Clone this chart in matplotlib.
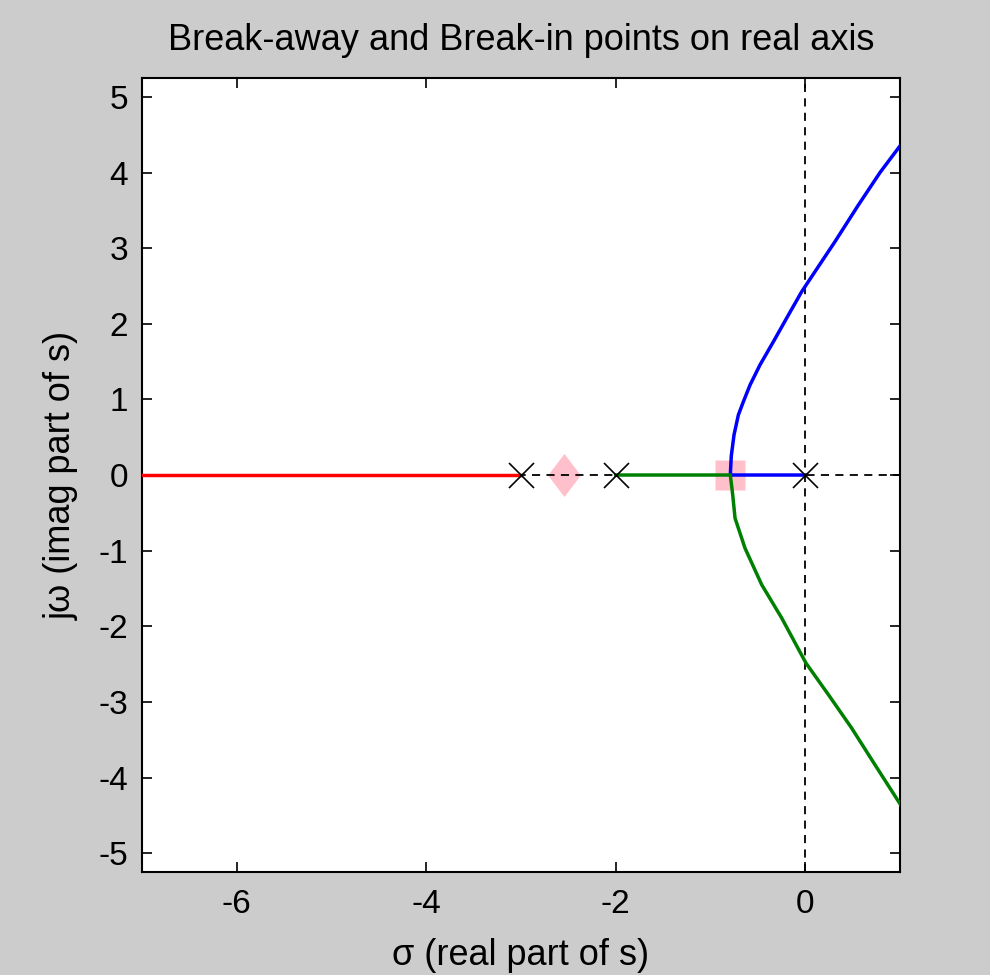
import matplotlib
matplotlib.use("Agg")
import matplotlib.pyplot as plt

# Root locus branches
red_sigma = [-7.0, -3.0]
red_omega = [0.0, 0.0]

blue_sigma = [0.0, -0.79, -0.78, -0.751, -0.705, -0.652, -0.582, -0.477, -0.335,
              -0.177, -0.037, 0.103, 0.314, 0.561, 0.79, 1.007]
blue_omega = [0.0, 0.0, 0.25, 0.531, 0.795, 0.971, 1.19, 1.456, 1.764,
              2.116, 2.424, 2.688, 3.085, 3.569, 4.0, 4.362]

green_sigma = [-2.0, -0.79, -0.765, -0.74, -0.635, -0.459, -0.248, 0.008,
               0.245, 0.49, 0.736, 1.007]
green_omega = [0.0, 0.0, -0.26, -0.571, -0.967, -1.45, -1.89, -2.486,
               -2.904, -3.345, -3.83, -4.36]

poles = [0.0, -2.0, -3.0]
breakaway = -0.79
breakin = -2.55

xticks = [-6, -4, -2, 0]
yticks = [-5, -4, -3, -2, -1, 0, 1, 2, 3, 4, 5]

plt.rcParams['font.family'] = ['Liberation Sans', 'DejaVu Sans']
plt.rcParams['axes.unicode_minus'] = False

fig = plt.figure(figsize=(9.9, 9.75), dpi=100, facecolor='#cccccc')
ax = fig.add_axes([0.1434, 0.1056, 0.7656, 0.8144])
ax.set_facecolor('white')

# candidate points
ax.plot([breakin], [0], marker=[(0, 1), (0.76, 0), (0, -1), (-0.76, 0)],
        ms=31, color='#ffc0cb', mec='none', ls='none', zorder=1)
ax.plot([breakaway], [0], marker='s', ms=22, color='#ffc0cb', mec='none',
        ls='none', zorder=1)

# axes lines
ax.axhline(0, color='black', ls=(0, (4.5, 3.5)), lw=1.3, zorder=2)
ax.axvline(0, color='black', ls=(0, (4.5, 3.5)), lw=1.3, zorder=2)

ax.plot(red_sigma, red_omega, color='red', lw=2.5, zorder=3)
ax.plot(blue_sigma, blue_omega, color='blue', lw=2.5, zorder=3)
ax.plot(green_sigma, green_omega, color='green', lw=2.5, zorder=3)

ax.plot(poles, [0] * len(poles), 'x', color='black', ms=18, mew=1.2, zorder=4)

ax.set_xlim(-7, 1)
ax.set_ylim(-5.25, 5.25)
ax.set_xticks(xticks)
ax.set_yticks(yticks)
ax.tick_params(direction='in', length=7, width=1.2, top=True, right=True,
               labelsize=24, pad=12)
ax.tick_params(axis='y', pad=10)
for sp in ax.spines.values():
    sp.set_linewidth(1.5)

ax.set_title("Break-away and Break-in points on real axis", fontsize=26, pad=20)
ax.set_xlabel("\u03c3 (real part of s)", fontsize=26, labelpad=13)
ax.set_ylabel("j\u03c9 (imag part of s)", fontsize=26, labelpad=14)

fig.savefig("out.png", dpi=100, facecolor=fig.get_facecolor())
